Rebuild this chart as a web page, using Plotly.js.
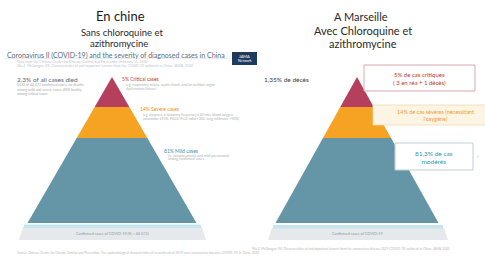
<!DOCTYPE html>
<html>
<head>
<meta charset="utf-8">
<script src="https://cdn.plot.ly/plotly-3.0.1.min.js"></script>
<style>html,body{margin:0;padding:0;background:#fff;}#chart{width:485px;height:260px;}</style>
</head>
<body>
<div id="chart"></div>
<script>
// ---- data ----
const layerKeys = ["critical", "severe", "mild"];
const chinaPct = [5, 14, 81];
const chinaDeathPct = 2.3;
const chinaLabels = ["5% Critical cases", "14% Severe cases", "81% Mild cases"];
const marseilleLabels = ["5% de cas critiques<br>( 3 en réa + 1 décès)", "14% de cas sévères (nécessitant<br>l'oxygène)", "81,3% de cas<br>modérés"];
const marseilleDeath = "1,35% de décès";
const leftTitle = ["En chine", "Sans chloroquine et", "azithromycine"];
const rightTitle = ["A Marseille", "Avec Chloroquine et", "azithromycine"];
const layerColors = ["#b4405e", "#f6a324", "#6496a8"];
const labelColors = ["#c0392b", "#e8901a", "#3f8fb0"];

// ---- geometry (layout only) ----
const levels = [77, 107, 138, 223];
const pyramids = [{cx: 112, half: 84.5}, {cx: 357, half: 81.5}];

const traces = [];
pyramids.forEach(p => {
  const H = levels[3] - levels[0];
  const hw = y => p.half * (y - levels[0]) / H;
  layerKeys.forEach((k, i) => {
    const y0 = levels[i], y1 = levels[i + 1];
    traces.push({
      type: "scatter", mode: "lines", fill: "toself",
      x: [p.cx - hw(y0), p.cx + hw(y0), p.cx + hw(y1), p.cx - hw(y1), p.cx - hw(y0)],
      y: [y0, y0, y1, y1, y0],
      line: {width: 0, color: layerColors[i]}, fillcolor: layerColors[i],
      hoverinfo: "skip", name: k
    });
  });
});

const F = "Lato, 'Open Sans', sans-serif";
const ann = [];
function t(x, y, text, size, color, anchor, extra) {
  ann.push(Object.assign({x, y, xref: "x", yref: "y", text, showarrow: false,
    xanchor: anchor || "center", yanchor: "middle",
    font: {family: F, size, color}}, extra || {}));
}
// titles
t(120, 16, leftTitle[0], 13, "#1a1a1a");
t(122, 32, leftTitle[1], 9.5, "#2a2a2a");
t(119, 43, leftTitle[2], 9.5, "#2a2a2a");
t(361, 16, rightTitle[0], 11, "#2a2a2a");
t(363, 30, rightTitle[1], 11, "#2a2a2a");
t(363, 43, rightTitle[2], 11, "#2a2a2a");

// embedded JAMA slide header
t(5, 55, "Coronavirus Il (COVID-19) and the severity of diagnosed cases in China", 7, "#5d6b7b", "left");
t(15, 61.5, "Data from the Chinese Center for Disease Control and Prevention, February 11, 2020", 3.5, "#c0c5cc", "left");
t(15, 66, "Wu Z, McGoogan JM. Characteristics of and important lessons from the COVID-19 outbreak in China. JAMA. 2020", 3.5, "#c0c5cc", "left");
t(244.5, 56, "JAMA", 4, "#ffffff");
t(244.5, 61, "Network", 3.5, "#ffffff");

// left annotations
t(15, 79, chinaDeathPct.toFixed(1) + "% of all cases died", 6.5, "#666666", "left");
t(15, 85, "1023 of 44 672 confirmed cases, no deaths", 3.5, "#a8a8a8", "left");
t(15, 89.5, "among mild and severe cases, 49% fatality", 3.5, "#a8a8a8", "left");
t(15, 94, "among critical cases", 3.5, "#a8a8a8", "left");
t(120, 79, chinaLabels[0], 5, labelColors[0], "left");
t(124, 84, "(eg, respiratory failure, septic shock, and/or multiple organ", 3.5, "#b0b0b0", "left");
t(124, 88, "dysfunction/failure)", 3.5, "#b0b0b0", "left");
t(138, 109, chinaLabels[1], 5, labelColors[1], "left");
t(141, 114, "(eg, dyspnea, respiratory frequency ≥30/min, blood oxygen", 3.5, "#b0b0b0", "left");
t(141, 118, "saturation ≤93%, PaO2/FiO2 ratio <300, lung infiltrates >50%)", 3.5, "#b0b0b0", "left");
t(162, 151, chinaLabels[2], 5, labelColors[2], "left");
t(166, 155.5, "(ie, nonpneumonia and mild pneumonia)", 3.5, "#b0b0b0", "left");
t(166, 159, "among confirmed cases", 3.5, "#b0b0b0", "left");
t(112, 233, "Confirmed cases of COVID-19 (N = 44 672)", 3.8, "#8a9aa5");
t(357, 233, "Confirmed cases of COVID-19", 3.8, "#8a9aa5");
t(15, 252, "Source: Chinese Center for Disease Control and Prevention. The epidemiological characteristics of an outbreak of 2019 novel coronavirus diseases (COVID-19) in China, 2020", 3.2, "#b8b8b8", "left");
t(250, 248, "Wu Z, McGoogan JM. Characteristics of and important lessons from the coronavirus disease 2019 (COVID-19) outbreak in China. JAMA 2020", 3.2, "#b8b8b8", "left");

// right annotations
t(262, 79, marseilleDeath, 6.5, "#3a3a3a", "left");
t(419, 78, marseilleLabels[0], 6, "#c0392b", "center");
t(435, 115, marseilleLabels[1], 5.5, "#ee9a3a", "center");
t(434, 157, marseilleLabels[2], 6.5, "#2a9bb8", "center");
t(478, 155, "›", 6, "#aaa");

const shapes = [
  {type: "rect", xref: "x", yref: "y", x0: 232, x1: 257, y0: 52, y1: 65, fillcolor: "#1f3a5f", line: {width: 0}, layer: "below"},
  {type: "line", xref: "x", yref: "y", x0: 5, x1: 230, y0: 58.5, y1: 58.5, line: {color: "#dde1e5", width: 0.6}},
  // base strips
  {type: "path", xref: "x", yref: "y", path: "M23,227 L202,227 L206,240 L19,240 Z", fillcolor: "#e6e9ec", line: {width: 0}, layer: "below"},
  {type: "rect", xref: "x", yref: "y", x0: 24, x1: 201, y0: 224.5, y1: 228, fillcolor: "#c7e5ef", line: {width: 0}},
  {type: "path", xref: "x", yref: "y", path: "M272,228 L444,228 L448,240 L268,240 Z", fillcolor: "#e6e9ec", line: {width: 0}, layer: "below"},
  {type: "rect", xref: "x", yref: "y", x0: 273, x1: 443, y0: 225, y1: 228.5, fillcolor: "#c7e5ef", line: {width: 0}},
  // right boxes
  {type: "rect", xref: "x", yref: "y", x0: 364, x1: 475, y0: 65, y1: 91, fillcolor: "#ffffff", line: {color: "#d9a8b1", width: 1}},
  {type: "rect", xref: "x", yref: "y", x0: 373, x1: 487, y0: 105, y1: 125, fillcolor: "#fdf5e4", line: {color: "#f0d9b0", width: 0.8}},
  {type: "rect", xref: "x", yref: "y", x0: 395, x1: 473, y0: 143, y1: 170, fillcolor: "#ffffff", line: {color: "#c0ced4", width: 1}}
];

const layout = {
  width: 485, height: 260,
  margin: {l: 0, r: 0, t: 0, b: 0},
  paper_bgcolor: "#ffffff", plot_bgcolor: "#ffffff",
  showlegend: false,
  xaxis: {range: [0, 485], visible: false, fixedrange: true},
  yaxis: {range: [260, 0], visible: false, fixedrange: true},
  annotations: ann, shapes: shapes
};
Plotly.newPlot("chart", traces, layout, {staticPlot: true, displayModeBar: false});
</script>
</body>
</html>
